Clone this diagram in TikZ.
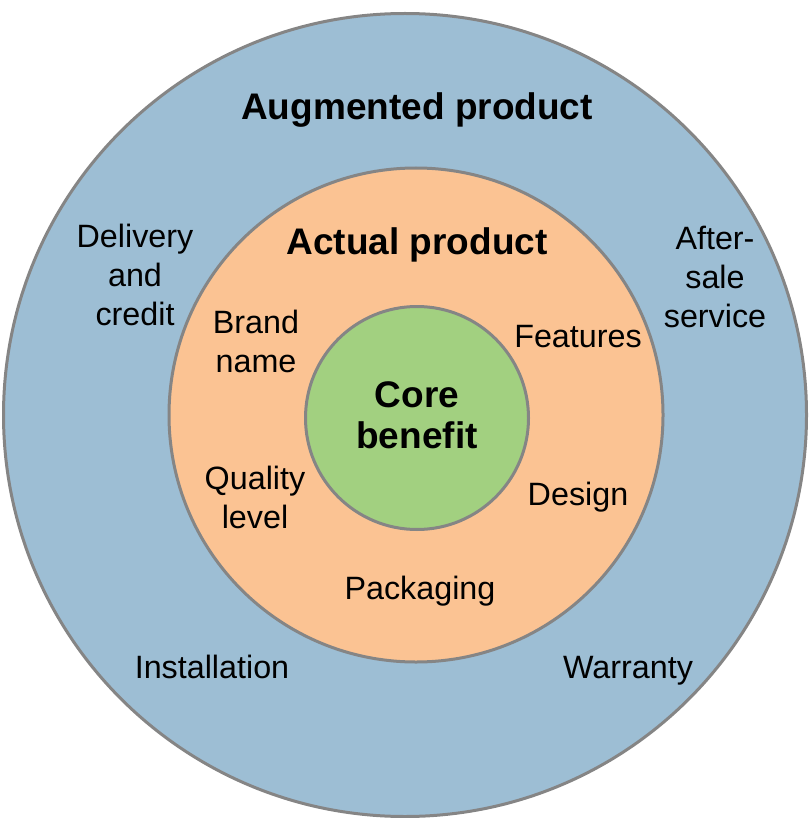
\documentclass[tikz,border=0pt]{standalone}
\usepackage{fontspec}
\setmainfont{Liberation Sans}
\definecolor{augblue}{HTML}{9DBED4}
\definecolor{actorange}{HTML}{FBC393}
\definecolor{coregreen}{HTML}{A2D080}
\definecolor{ringgray}{HTML}{858585}
\tikzset{
  ring/.style={circle, draw=ringgray, line width=3pt, inner sep=0pt},
  title/.style={font=\bfseries\fontsize{37}{41}\selectfont, align=center, inner sep=0pt},
  item/.style={font=\fontsize{32.3}{39}\selectfont, align=center, inner sep=0pt}
}
\begin{document}
\begin{tikzpicture}[x=1pt,y=-1pt]
  \useasboundingbox (0,0) rectangle (810,818);
  % rings
  \node (AUG) [ring, fill=augblue, minimum size=803pt] at (405,415) {};
  \node (ACT) [ring, fill=actorange, minimum size=494pt] at (416,415) {};
  \node (CORE) [ring, fill=coregreen, minimum size=223pt] at (417,418) {};
  % titles
  \node (AUGT) [title] at (417,110) {Augmented product};
  \node (ACTT) [title] at (417,245) {Actual product};
  \node (COREB) [title] at (417,415) {Core\\benefit};
  % augmented product items
  \node (DEL) [item] at (135,275) {Delivery\\and\\credit};
  \node (AFT) [item] at (715,277) {After-\\sale\\service};
  \node (INS) [item, anchor=base] at (212,678) {Installation};
  \node (WAR) [item, anchor=base] at (628,678) {Warranty};
  % actual product items
  \node (BRA) [item] at (256,341) {Brand\\name};
  \node (FEA) [item] at (578,337) {Features};
  \node (QUA) [item] at (255,497) {Quality\\level};
  \node (DES) [item] at (578,497) {Design};
  \node (PAC) [item, anchor=base] at (420,599) {Packaging};
\end{tikzpicture}
\end{document}
